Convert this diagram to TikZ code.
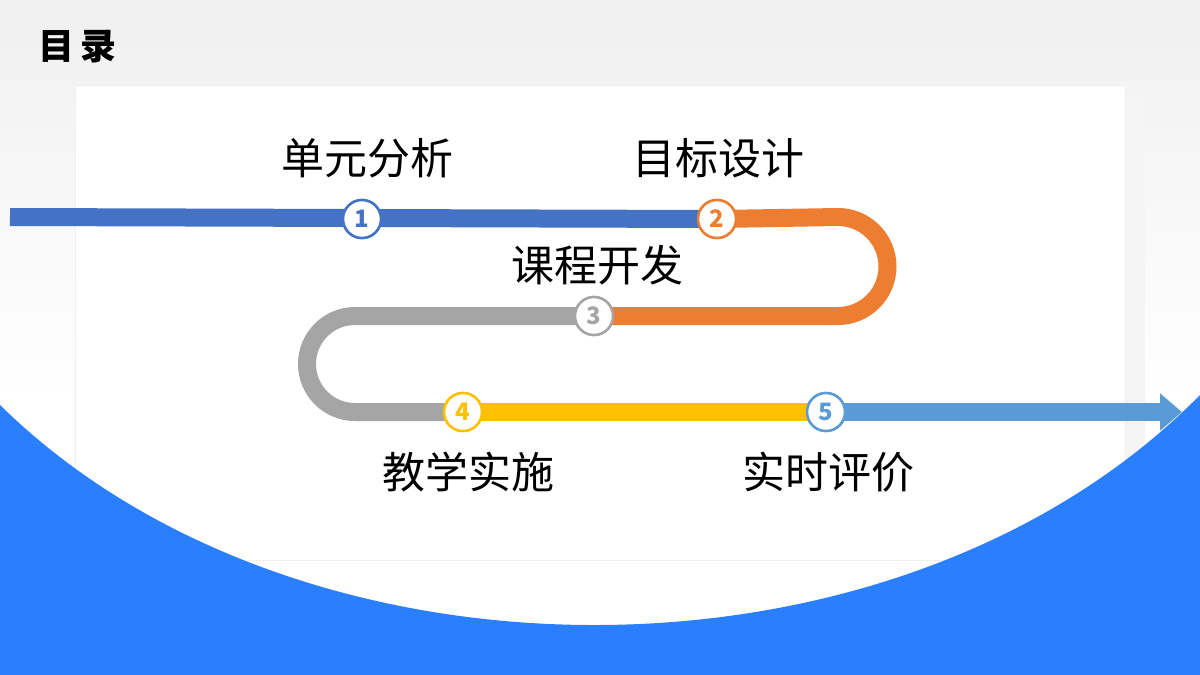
\documentclass[tikz,border=0pt]{standalone}
\usepackage{fontspec}
\setmainfont{Noto Sans CJK SC}
\usetikzlibrary{arrows.meta}
\definecolor{cblue}{HTML}{4472C4}
\definecolor{corange}{HTML}{ED7D31}
\definecolor{cgray}{HTML}{A5A5A5}
\definecolor{cyellow}{HTML}{FFC000}
\definecolor{clblue}{HTML}{5B9BD5}
\definecolor{wave}{HTML}{2A7FFF}
\tikzset{
  seg/.style={line width=18pt},
  num/.style={circle,draw=#1,fill=white,line width=2.5pt,minimum size=38pt,inner sep=0pt,text=#1,font=\bfseries\fontsize{24}{24}\selectfont},
  lab/.style={font=\fontsize{43}{43}\selectfont,text=black}
}
\begin{document}
\begin{tikzpicture}[x=1pt,y=-1pt]
\useasboundingbox (0,0) rectangle (1200,675);
\fill[top color=gray!12,bottom color=white] (0,0) rectangle (1200,400);
\fill[white] (0,400) rectangle (1200,675);
\fill[black!4] (1110,95) rectangle (1145,500);
\fill[white,draw=black!6] (75,85) rectangle (1125,560);
\fill[wave] (0,405) .. controls (300,700) and (900,700) .. (1200,395) -- (1200,675) -- (0,675) -- cycle;
\node[font=\fontsize{36}{36}\selectfont\bfseries,anchor=west] (title) at (35,47) {目\,录};
\coordinate (s0) at (10,217);
\node[num=cblue] (n1) at (362,219) {1};
\node[num=corange] (n2) at (717,219) {2};
\node[num=cgray] (n3) at (594,316) {3};
\node[num=cyellow] (n4) at (463,412) {4};
\node[num=clblue] (n5) at (826,412) {5};
\coordinate (e) at (1182,412);
\draw[seg,cblue] (s0) -- (n2.center);
\draw[seg,corange] (n2.center) -- (838,217) arc[start angle=270,end angle=450,radius=49.5] -- (n3.center);
\draw[seg,cgray] (n3.center) -- (355,316) arc[start angle=270,end angle=90,radius=48] -- (n4.center);
\draw[seg,cyellow] (n4.center) -- (n5.center);
\draw[seg,clblue,-{Triangle[length=22pt,width=36pt]}] (n5.center) -- (e);
\node[num=cblue] at (n1) {1};
\node[num=corange] at (n2) {2};
\node[num=cgray] at (n3) {3};
\node[num=cyellow] at (n4) {4};
\node[num=clblue] at (n5) {5};
\node[lab] (l1) at (367,158) {单元分析};
\node[lab] (l2) at (718,158) {目标设计};
\node[lab] (l3) at (597,265) {课程开发};
\node[lab] (l4) at (468,472) {教学实施};
\node[lab] (l5) at (828,472) {实时评价};
\end{tikzpicture}
\end{document}
